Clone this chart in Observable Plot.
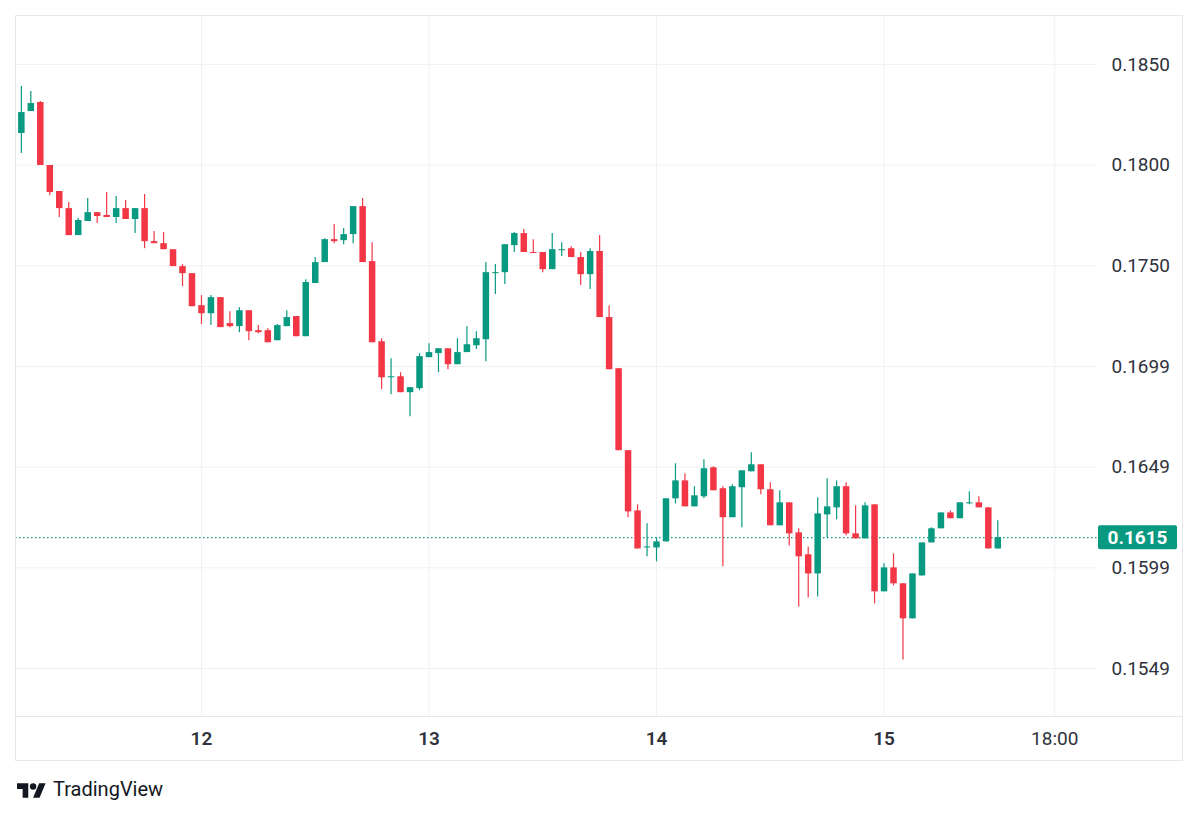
<!DOCTYPE html>
<html><head><meta charset="utf-8">
<script src="https://cdn.jsdelivr.net/npm/d3@7"></script>
<script src="https://cdn.jsdelivr.net/npm/@observablehq/plot@0.6"></script>
<style>
body{margin:0;background:#fff;font-family:Roboto,sans-serif;}
#wrap{position:relative;width:1200px;height:817px;overflow:hidden;}
#logo{position:absolute;left:17px;top:777px;display:flex;align-items:center;gap:7px;font-size:20px;color:#131722;font-family:Roboto,sans-serif;}
</style></head><body>
<div id="wrap"><div id="chart"></div>
<div id="logo"><svg width="29" height="18" viewBox="0 0 36 22"><path d="M14 22H7V11H0V4h14v18zM28 22h-8l7.5-18h8L28 22z" fill="#131722"/><circle cx="20" cy="8" r="4" fill="#131722"/></svg><span>TradingView</span></div>
</div>
<script>
const startTime = "2024-03-11T05:00:00Z";
const open = [
.18157,.18266,.18311,.17998,.17869,.17784,.17650,.17720,.17764,.17750,
.17740,.17784,.17730,.17784,.17620,.17610,.17580,.17496,.17461,.17302,
.17262,.17342,.17213,.17198,.17277,.17178,.17178,.17128,.17198,.17248,
.17148,.17412,.17516,.17630,.17625,.17655,.17794,.17521,.17123,.16944,
.16949,.16870,.16890,.17044,.17064,.17088,.17009,.17069,.17103,.17133,
.17461,.17466,.17600,.17660,.17566,.17566,.17481,.17575,.17585,.17541,
.17456,.17571,.17243,.16989,.16582,.16283,.16099,.16099,.16129,.16343,
.16432,.16303,.16353,.16497,.16393,.16249,.16398,.16477,.16512,.16388,
.16209,.16323,.16174,.16065,.15970,.16263,.16298,.16403,.16169,.16144,
.16313,.15881,.16000,.15921,.15747,.15960,.16124,.16194,.16273,.16244,
.16318,.16323,.16298,.16094];
const high = [
.18391,.18366,.18316,.17998,.17869,.17814,.17735,.17834,.17764,.17864,
.17844,.17824,.17784,.17854,.17670,.17665,.17580,.17506,.17461,.17352,
.17352,.17342,.17272,.17292,.17277,.17203,.17188,.17208,.17277,.17248,
.17431,.17541,.17635,.17705,.17685,.17794,.17834,.17615,.17138,.17039,
.16969,.16895,.17064,.17113,.17088,.17088,.17138,.17198,.17173,.17516,
.17506,.17605,.17665,.17680,.17630,.17566,.17660,.17615,.17595,.17566,
.17585,.17650,.17302,.16989,.16582,.16313,.16219,.16149,.16343,.16517,
.16467,.16403,.16537,.16502,.16403,.16413,.16482,.16572,.16512,.16423,
.16383,.16323,.16194,.16104,.16348,.16442,.16432,.16423,.16308,.16323,
.16313,.16020,.16070,.15921,.15970,.16124,.16199,.16273,.16283,.16323,
.16378,.16353,.16298,.16234];
const low = [
.18058,.18266,.17998,.17849,.17740,.17650,.17650,.17720,.17710,.17740,
.17710,.17730,.17660,.17585,.17610,.17580,.17496,.17397,.17297,.17208,
.17203,.17193,.17193,.17168,.17128,.17163,.17118,.17128,.17198,.17148,
.17148,.17412,.17516,.17610,.17605,.17610,.17516,.17118,.16885,.16860,
.16870,.16751,.16880,.17044,.16969,.16984,.17009,.17069,.17084,.17024,
.17357,.17407,.17566,.17566,.17561,.17466,.17481,.17546,.17541,.17402,
.17382,.17243,.16984,.16582,.16249,.16094,.16055,.16030,.16129,.16318,
.16303,.16303,.16343,.16383,.16005,.16249,.16199,.16477,.16363,.16209,
.16209,.16109,.15806,.15851,.15856,.16149,.16239,.16159,.16144,.16144,
.15821,.15881,.15911,.15543,.15747,.15960,.16124,.16194,.16244,.16244,
.16313,.16298,.16094,.16094];
const close = [
.18261,.18306,.17998,.17864,.17784,.17650,.17725,.17764,.17745,.17740,
.17784,.17730,.17784,.17620,.17610,.17580,.17496,.17461,.17297,.17262,
.17342,.17193,.17198,.17277,.17173,.17168,.17118,.17203,.17243,.17148,
.17417,.17516,.17630,.17620,.17655,.17794,.17516,.17118,.16944,.16949,
.16870,.16895,.17049,.17069,.17088,.17009,.17069,.17108,.17138,.17466,
.17466,.17605,.17660,.17566,.17561,.17481,.17580,.17580,.17541,.17456,
.17571,.17243,.16984,.16582,.16278,.16094,.16104,.16129,.16343,.16432,
.16303,.16358,.16492,.16383,.16249,.16403,.16482,.16512,.16388,.16209,
.16323,.16169,.16055,.15970,.16268,.16303,.16403,.16169,.16144,.16308,
.15881,.16000,.15921,.15747,.15970,.16124,.16194,.16273,.16244,.16323,
.16323,.16298,.16094,.16150];

const priceTicks = [0.185, 0.18, 0.175, 0.17, 0.165, 0.16, 0.155];
const priceLabels = ["0.1850", "0.1800", "0.1750", "0.1699", "0.1649", "0.1599", "0.1549"];
const dayTicks = ["2024-03-12T00:00:00Z", "2024-03-13T00:00:00Z", "2024-03-14T00:00:00Z", "2024-03-15T00:00:00Z"];
const dayLabels = ["12", "13", "14", "15"];
const hourTicks = ["2024-03-15T18:00:00Z"];
const hourLabels = ["18:00"];
const lastPrice = 0.1615;
const lastLabel = "0.1615";
const xDomain = ["2024-03-11T04:23:00Z", "2024-03-15T22:31:00Z"];
const yDomain = [0.15257, 0.18743];

const GREEN = "#089981", RED = "#f23645";

const t0 = new Date(startTime);
const candles = open.map((o, i) => ({
  date: d3.utcHour.offset(t0, i), open: o, high: high[i], low: low[i], close: close[i]
}));
const dayDates = dayTicks.map(d => new Date(d));
const hourDates = hourTicks.map(d => new Date(d));
const allTimeDates = dayDates.concat(hourDates);
const priceMap = new Map(priceTicks.map((p, i) => [p, priceLabels[i]]));
const timeMap = new Map();
dayDates.forEach((d, i) => timeMap.set(+d, dayLabels[i]));
hourDates.forEach((d, i) => timeMap.set(+d, hourLabels[i]));
const col = d => d.close >= d.open ? GREEN : RED;

const chart = Plot.plot({
  width: 1200, height: 770,
  marginLeft: 15, marginRight: 103, marginTop: 15, marginBottom: 53,
  style: {fontFamily: "Roboto, sans-serif", color: "#2f323c", background: "white"},
  x: {type: "utc", domain: xDomain.map(d => new Date(d))},
  y: {domain: yDomain},
  color: {type: "identity"},
  marks: [
    Plot.gridY(priceTicks, {stroke: "#f0f1f4", strokeOpacity: 1}),
    Plot.gridX(allTimeDates, {stroke: "#f0f1f4", strokeOpacity: 1}),
    Plot.ruleY([lastPrice], {stroke: GREEN, strokeDasharray: "1.5,2.5", strokeWidth: 1.2}),
    Plot.ruleX(candles, {x: "date", y1: "low", y2: "high", stroke: col, strokeWidth: 1.2}),
    Plot.ruleX(candles, {x: "date", y1: "open", y2: "close", stroke: col, strokeWidth: 6.5}),
    Plot.axisY({anchor: "right", ticks: priceTicks, tickFormat: d => priceMap.get(d), tickSize: 0, tickPadding: 14, fontSize: 19, label: null, fill: "#2f323c"}),
    Plot.axisX({ticks: dayDates, tickFormat: d => timeMap.get(+d), tickSize: 0, tickPadding: 14, fontSize: 19, fontWeight: 600, label: null, fill: "#2f323c"}),
    Plot.axisX({ticks: hourDates, tickFormat: d => timeMap.get(+d), tickSize: 0, tickPadding: 14, fontSize: 19, label: null, fill: "#2f323c"})
  ]
});

const svg = d3.select(chart);
const yScale = chart.scale("y");
const yy = yScale.apply(lastPrice);
svg.append("rect").attr("x", 15.5).attr("y", 15.5).attr("width", 1167).attr("height", 745)
  .attr("fill", "none").attr("stroke", "#e6e7ea");
svg.append("line").attr("x1", 15).attr("x2", 1183).attr("y1", 716.5).attr("y2", 716.5).attr("stroke", "#e6e7ea");
svg.append("rect").attr("x", 1098).attr("y", yy - 12).attr("width", 79).attr("height", 24).attr("rx", 2).attr("fill", GREEN);
svg.append("text").attr("x", 1137.5).attr("y", yy).attr("dy", "0.35em").attr("text-anchor", "middle")
  .attr("fill", "white").attr("font-size", 19).attr("font-weight", "bold").attr("font-family", "Roboto, sans-serif").text(lastLabel);

document.getElementById("chart").appendChild(chart);
</script>
</body></html>
